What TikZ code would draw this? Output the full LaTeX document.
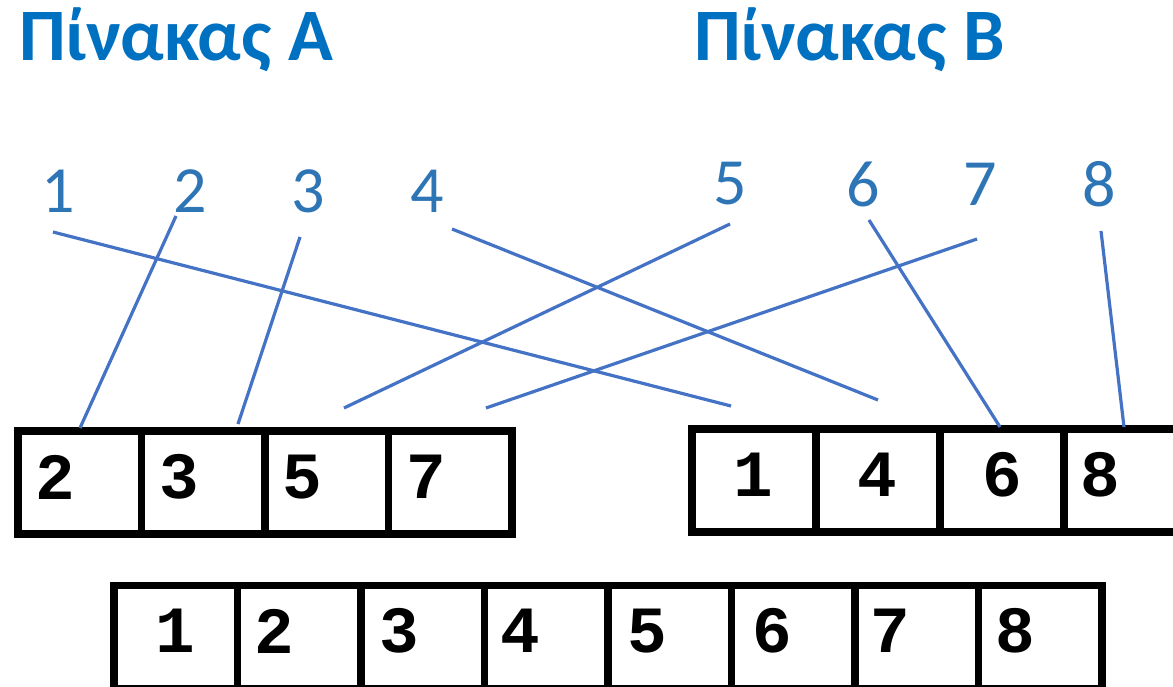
\documentclass[tikz,border=0pt]{standalone}
\usepackage{fontspec}
\setmainfont{Carlito}
\setmonofont{Liberation Mono}
\definecolor{titleblue}{HTML}{0070C0}
\definecolor{labelblue}{HTML}{2E75B6}
\definecolor{lineblue}{HTML}{4472C4}
\begin{document}
\begin{tikzpicture}[x=1pt,y=-1pt,
  cell/.style={draw=black, line width=7.5pt, minimum width=123.5pt, minimum height=103pt, inner sep=0pt, outer sep=0pt, anchor=north west},
  digit/.style={font=\ttfamily\bfseries\fontsize{66}{66}\selectfont, inner sep=0pt, anchor=center},
  lbl/.style={font=\fontsize{66}{66}\selectfont, text=labelblue, inner sep=0pt, anchor=center},
  ttl/.style={font=\bfseries\fontsize{74}{74}\selectfont, text=titleblue, inner sep=0pt, anchor=base west},
  conn/.style={draw=lineblue, line width=3.2pt}]
\useasboundingbox (0,0) rectangle (1173,687);
\clip (0,0) rectangle (1173,687);
\fill[white] (0,0) rectangle (1173,687);
% titles
\node[ttl] (tA) at (19,61) {Πίνακας A};
\node[ttl] (tB) at (694,61) {Πίνακας B};
% number labels
\node[lbl] (n1) at (58,191) {1};
\node[lbl] (n2) at (190,191) {2};
\node[lbl] (n3) at (308,191) {3};
\node[lbl] (n4) at (427,191) {4};
\node[lbl] (n5) at (730,184) {5};
\node[lbl] (n6) at (863,184) {6};
\node[lbl] (n7) at (980,184) {7};
\node[lbl] (n8) at (1099,184) {8};
% box A
\foreach \i in {0,...,3} {\node[cell] (a\i) at (18+\i*123.5,431) {};}
\node[digit] (da0) at (55,477) {2};
\node[digit] (da1) at (179.5,477) {3};
\node[digit] (da2) at (302.5,477) {5};
\node[digit] (da3) at (426.5,477) {7};
% box B
\foreach \i in {0,...,3} {\node[cell] (b\i) at (692+\i*124,429) {};}
\node[digit] (db0) at (753.5,475) {1};
\node[digit] (db1) at (877.5,475) {4};
\node[digit] (db2) at (1002,475) {6};
\node[digit] (db3) at (1100.5,475) {8};
% bottom box
\foreach \i in {0,...,7} {\node[cell] (c\i) at (114+\i*123.5,585.5) {};}
\node[digit] (dc0) at (175.5,631) {1};
\node[digit] (dc1) at (274,631) {2};
\node[digit] (dc2) at (399,631) {3};
\node[digit] (dc3) at (520.5,631) {4};
\node[digit] (dc4) at (647.5,631) {5};
\node[digit] (dc5) at (772.5,631) {6};
\node[digit] (dc6) at (890.5,631) {7};
\node[digit] (dc7) at (1015,631) {8};
% connector end points
\coordinate (s1) at (53,232);  \coordinate (e1) at (731,406);
\coordinate (s2) at (176,216); \coordinate (e2) at (80,428);
\coordinate (s3) at (300,237); \coordinate (e3) at (238,424);
\coordinate (s4) at (452,229); \coordinate (e4) at (878,400);
\coordinate (s5) at (730,224); \coordinate (e5) at (344,408);
\coordinate (s6) at (869,220); \coordinate (e6) at (1000,427);
\coordinate (s7) at (977,239); \coordinate (e7) at (486,408);
\coordinate (s8) at (1101,231); \coordinate (e8) at (1124,427);
\foreach \k in {1,...,8} {\draw[conn] (s\k) -- (e\k);}
\end{tikzpicture}
\end{document}
